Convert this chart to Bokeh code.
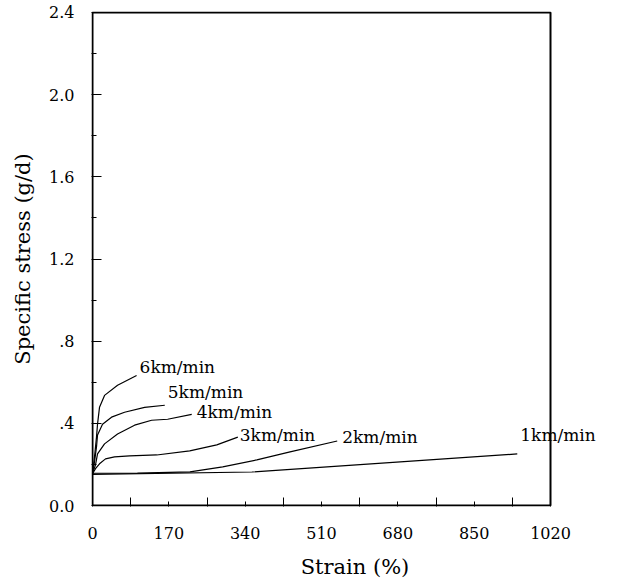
from bokeh.plotting import figure
from bokeh.models import Range1d, FixedTicker, CustomJSTickFormatter, Label, BoxAnnotation
from bokeh.embed import file_html
from bokeh.resources import INLINE

# ---- data ----
speeds = ["6km/min", "5km/min", "4km/min", "3km/min", "2km/min", "1km/min"]

strain_6 = [0, 4.5, 8.9, 11.2, 15.6, 26.8, 55.8, 98.2]
stress_6 = [0.155, 0.237, 0.333, 0.396, 0.478, 0.536, 0.585, 0.633]

strain_5 = [0, 4.5, 8.9, 11.2, 22.3, 42.4, 71.4, 116, 161]
stress_5 = [0.155, 0.213, 0.285, 0.343, 0.396, 0.430, 0.454, 0.478, 0.488]

strain_4 = [0, 6.7, 11.2, 26.8, 55.8, 93.7, 131.7, 167.4, 221]
stress_4 = [0.155, 0.198, 0.251, 0.300, 0.348, 0.391, 0.415, 0.420, 0.444]

strain_3 = [0, 6.7, 15.6, 29, 49, 82.6, 143, 216.5, 276.8, 323.6]
stress_3 = [0.155, 0.179, 0.203, 0.227, 0.237, 0.242, 0.246, 0.266, 0.295, 0.333]

strain_2 = [0, 100, 217, 290, 366, 440, 545]
stress_2 = [0.157, 0.158, 0.164, 0.188, 0.222, 0.261, 0.314]

strain_1 = [0, 355, 946]
stress_1 = [0.152, 0.163, 0.251]

x_ticks = [0, 170, 340, 510, 680, 850, 1020]
x_minor = [85, 255, 425, 595, 765, 935]
y_ticks = [0.0, 0.4, 0.8, 1.2, 1.6, 2.0, 2.4]
y_minor = [0.2, 0.6, 1.0, 1.4, 1.8, 2.2]
x_max, y_max = 1020, 2.4

series = [
    (strain_6, stress_6),
    (strain_5, stress_5),
    (strain_4, stress_4),
    (strain_3, stress_3),
    (strain_2, stress_2),
    (strain_1, stress_1),
]
# label offsets from each curve's end (screen px, right / up)
label_offsets = [(3, 9), (3, 13), (5, 2), (2, 2), (5, 4), (3, 19)]

FONT = "DejaVu Serif"

W, H = 626, 581
BL, BR, BT, BB = 91, 8, 11, 72
box_w = 458                       # pixel width of the 0..1020 box
frame_w = W - BL - BR
frame_h = H - BT - BB
pad = 1.0                         # px of room so the box line is not clipped
box_h = frame_h - 2 * pad
ux = x_max / box_w                # data units per px
uy = y_max / box_h
x_end = x_max + (frame_w - box_w - pad) * ux

p = figure(width=W, height=H, output_backend="svg", toolbar_location=None,
           x_range=Range1d(-pad * ux, x_end),
           y_range=Range1d(-pad * uy, y_max + pad * uy),
           min_border_left=BL, min_border_right=BR, min_border_top=BT,
           min_border_bottom=BB)
p.xgrid.visible = False
p.ygrid.visible = False
p.outline_line_color = None
p.background_fill_color = "white"
p.border_fill_color = "white"

p.add_layout(BoxAnnotation(left=0, right=x_max, bottom=0, top=y_max,
                           fill_color=None, fill_alpha=0,
                           line_color="black", line_alpha=1.0, line_width=2))

for (xs, ys), name, (dx, dy) in zip(series, speeds, label_offsets):
    p.line(xs, ys, line_color="black", line_width=1.2)
    lx = xs[-1] + dx * ux
    ly = ys[-1] + dy * uy
    p.add_layout(Label(x=lx, y=ly, text=name, text_font=FONT,
                       text_font_size="17px", text_color="black",
                       text_align="left", text_baseline="middle"))

xa = p.xaxis[0]
xa.ticker = FixedTicker(ticks=x_ticks, minor_ticks=x_minor)
xa.axis_label = "Strain (%)"
xa.major_tick_in = 5
xa.major_tick_out = 0
xa.minor_tick_in = 9
xa.minor_tick_out = 0
xa.major_label_standoff = 20

ya = p.yaxis[0]
ya.ticker = FixedTicker(ticks=y_ticks, minor_ticks=y_minor)
ya.axis_label = "Specific stress (g/d)"
ya.major_tick_in = 10
ya.major_tick_out = 0
ya.minor_tick_in = 5
ya.minor_tick_out = 0
ya.major_label_standoff = 17
ya.formatter = CustomJSTickFormatter(code="""
if (Math.abs(tick) < 1e-9) return '0.0';
const s = tick.toFixed(1);
return tick < 1 ? s.slice(1) : s;
""")

for ax in (xa, ya):
    ax.axis_line_color = None
    ax.major_tick_line_color = "black"
    ax.minor_tick_line_color = "black"
    ax.major_label_text_font = FONT
    ax.major_label_text_font_size = "16px"
    ax.major_label_text_color = "black"
    ax.axis_label_text_font = FONT
    ax.axis_label_text_font_size = "21px"
    ax.axis_label_text_font_style = "normal"
    ax.axis_label_text_color = "black"
xa.axis_label_standoff = 13
ya.axis_label_standoff = 11

open("out.html", "w").write(file_html(p, INLINE))
